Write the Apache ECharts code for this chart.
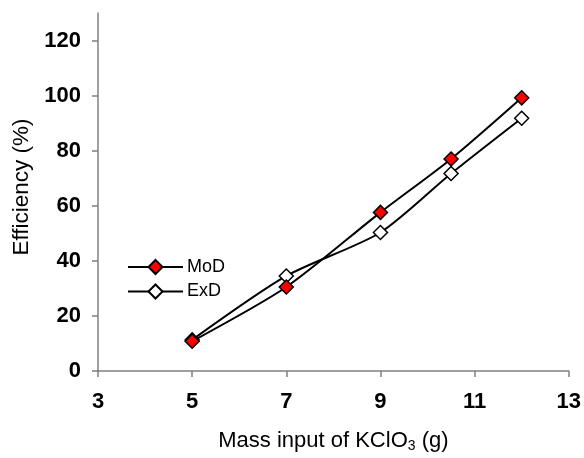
<!DOCTYPE html>
<html><head><meta charset="utf-8">
<script src="https://cdn.jsdelivr.net/npm/echarts@6/dist/echarts.min.js"></script>
<style>html,body{margin:0;padding:0;background:#fff}#c{width:584px;height:458px}</style>
</head><body><div id="c"></div>
<script>
var xValues = [5, 7, 9, 10.5, 12];
var modValues = [10.8, 30.5, 57.6, 77.0, 99.2];
var exdValues = [11.3, 34.5, 50.3, 71.7, 91.8];
var yTicks = [0, 20, 40, 60, 80, 100, 120];
var xTicks = [3, 5, 7, 9, 11, 13];

function pairs(xs, ys){ return xs.map(function(x,i){return [x, ys[i]];}); }

var font = '"Liberation Sans", Arial, sans-serif';
var axisColor = '#808080';
var chart = echarts.init(document.getElementById('c'));
chart.setOption({
  backgroundColor: '#fff',
  animation: false,
  grid: {left: 98, right: 12, top: 13, bottom: 85},
  legend: {
    orient: 'vertical', left: 127, top: 258, padding: 0,
    itemWidth: 55, itemHeight: 17.5, itemGap: 6.5,
    textStyle: {fontFamily: font, fontSize: 18, color: '#000', padding: [0,0,0,-1]},
    data: ['MoD', 'ExD']
  },
  xAxis: {
    type: 'value', min: 3, max: 13, interval: 2,
    name: '{a|Mass input of KClO}{b|3}{a| (g)}',
    nameLocation: 'middle', nameGap: 58,
    nameTextStyle: {
      fontFamily: font, color: '#000',
      rich: {
        a: {fontFamily: font, fontSize: 22, color: '#000'},
        b: {fontFamily: font, fontSize: 14, color: '#000', verticalAlign: 'bottom', padding: [10,0,0,0]}
      }
    },
    axisLine: {lineStyle: {color: axisColor, width: 1.5}},
    axisTick: {inside: false, length: 6, lineStyle: {color: axisColor, width: 1.5}, customValues: xTicks},
    axisLabel: {fontFamily: font, fontSize: 22, fontWeight: 'bold', color: '#000', margin: 20, customValues: xTicks},
    splitLine: {show: false}
  },
  yAxis: {
    type: 'value', min: 0, max: 130, interval: 20,
    name: 'Efficiency (%)', nameLocation: 'middle', nameGap: 64, nameRotate: 90,
    nameTextStyle: {fontFamily: font, fontSize: 22.5, color: '#000', padding: [0,0,0,10]},
    axisLine: {show: true, lineStyle: {color: axisColor, width: 1.5}},
    axisTick: {show: true, length: 6, lineStyle: {color: axisColor, width: 1.5}, customValues: yTicks},
    axisLabel: {fontFamily: font, fontSize: 22, fontWeight: 'bold', color: '#000', margin: 17, customValues: yTicks},
    splitLine: {show: false}
  },
  series: [
    {
      name: 'MoD', type: 'line', data: pairs(xValues, modValues),
      smooth: 0.25, symbol: 'diamond', symbolSize: 14,
      lineStyle: {color: '#000', width: 2},
      itemStyle: {color: '#ff0000', borderColor: '#000', borderWidth: 1.5},
      z: 3
    },
    {
      name: 'ExD', type: 'line', data: pairs(xValues, exdValues),
      smooth: 0.25, symbol: 'diamond', symbolSize: 14,
      lineStyle: {color: '#000', width: 2},
      itemStyle: {color: '#ffffff', borderColor: '#000', borderWidth: 1.5},
      z: 2
    }
  ]
});
</script></body></html>
